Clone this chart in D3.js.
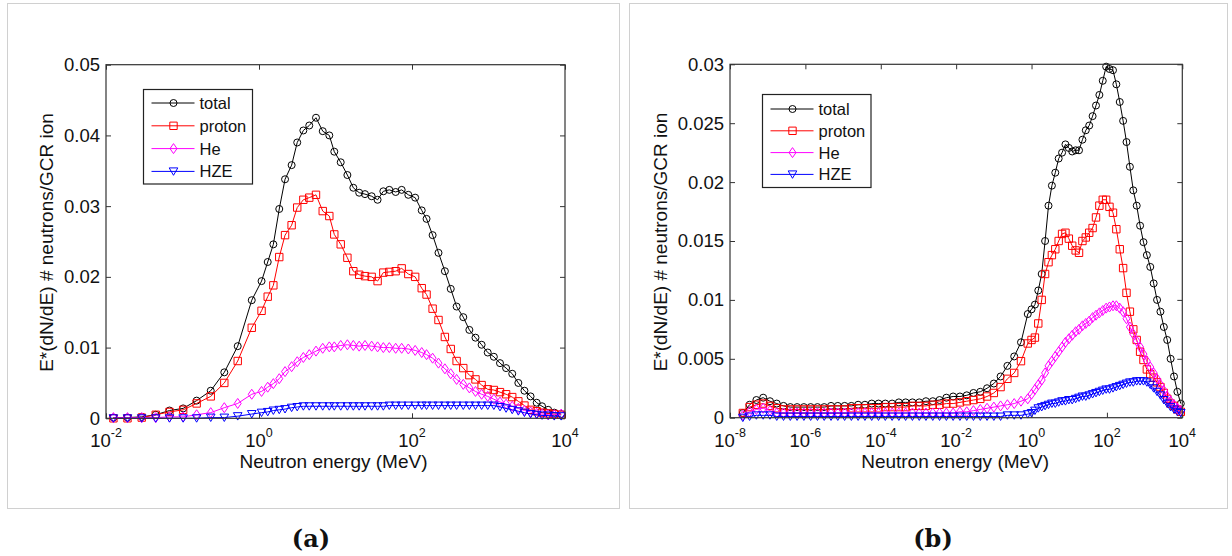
<!DOCTYPE html>
<html><head><meta charset="utf-8">
<script src="https://cdn.jsdelivr.net/npm/d3@7"></script>
<style>
body{margin:0;background:#fff}
svg{display:block}
text{font-family:"Liberation Sans",Arial,sans-serif;fill:#111}
</style></head>
<body><svg id="c" width="1232" height="556"></svg>
<script>
// ---------------- data ----------------
const seriesNames = ["total", "proton", "He", "HZE"];

// panel (a)
const energyA = [0.0125,0.0191,0.0293,0.0447,0.0676,0.102,0.153,0.234,0.352,0.527,
  0.804,1.08,1.30,1.54,1.84,2.19,2.67,3.16,3.80,4.54,
  5.56,6.81,8.30,9.64,11.7,14.3,17.1,20.4,24.3,29.7,
  35.5,42.2,50.5,61.2,73.3,89.5,110,134,155,186,
  222,269,321,383,468,562,676,813,977,1175,
  1413,1698,2042,2455,2951,3548,4266,5012,6026,7244,8913];
const totalA = [0.0001,0.0001,0.0002,0.0005,0.0011,0.0014,0.0025,0.0039,0.0065,0.0102,
  0.0167,0.0194,0.0221,0.0246,0.0296,0.0338,0.0358,0.0390,0.0407,0.0414,
  0.0425,0.0406,0.0400,0.0377,0.0362,0.0344,0.0326,0.0319,0.0317,0.0314,
  0.0309,0.0321,0.0323,0.0320,0.0323,0.0316,0.0312,0.0294,0.0282,0.0259,
  0.0234,0.0208,0.0183,0.0158,0.0143,0.0125,0.0114,0.0104,0.0093,0.0087,
  0.0078,0.0071,0.0063,0.0050,0.0039,0.0031,0.0022,0.0017,0.0012,0.0008,0.0006];
const protonA = [0.0000,0.0000,0.0001,0.0005,0.0009,0.0012,0.0021,0.0031,0.0050,0.0081,
  0.0128,0.0152,0.0172,0.0188,0.0228,0.0259,0.0273,0.0298,0.0309,0.0312,
  0.0316,0.0293,0.0286,0.0260,0.0246,0.0227,0.0208,0.0203,0.0201,0.0200,
  0.0194,0.0206,0.0207,0.0208,0.0212,0.0204,0.0200,0.0184,0.0175,0.0155,
  0.0139,0.0115,0.0098,0.0081,0.0071,0.0061,0.0055,0.0047,0.0041,0.0040,
  0.0037,0.0034,0.0030,0.0024,0.0018,0.0012,0.0010,0.0008,0.0007,0.0006,0.0005];
const heA = [0.0001,0.0001,0.0001,0.0001,0.0002,0.0002,0.0005,0.0008,0.0015,0.0021,
  0.0034,0.0038,0.0044,0.0049,0.0056,0.0066,0.0073,0.0080,0.0086,0.0090,
  0.0095,0.0099,0.0101,0.0101,0.0103,0.0104,0.0103,0.0102,0.0103,0.0102,
  0.0101,0.0100,0.0100,0.0099,0.0099,0.0098,0.0096,0.0093,0.0090,0.0085,
  0.0078,0.0070,0.0063,0.0055,0.0048,0.0043,0.0038,0.0034,0.0031,0.0027,
  0.0023,0.0020,0.0017,0.0014,0.0011,0.0009,0.0007,0.0006,0.0005,0.0005,0.0006];
const hzeA = [0.0000,0.0000,0.0000,0.0000,0.0000,0.0000,0.0000,0.0001,0.0001,0.0003,
  0.0006,0.0008,0.0009,0.0011,0.0012,0.0013,0.0015,0.0016,0.0017,0.0017,
  0.0017,0.0017,0.0017,0.0017,0.0017,0.0017,0.0017,0.0017,0.0017,0.0017,
  0.0017,0.0017,0.0018,0.0018,0.0018,0.0018,0.0018,0.0018,0.0018,0.0018,
  0.0018,0.0018,0.0018,0.0018,0.0018,0.0018,0.0018,0.0018,0.0018,0.0018,
  0.0016,0.0014,0.0012,0.0010,0.0008,0.0006,0.0005,0.0004,0.0004,0.0003,0.0003];
const yTicksA = [0, 0.01, 0.02, 0.03, 0.04, 0.05];
const yTickLabelsA = ["0", "0.01", "0.02", "0.03", "0.04", "0.05"];
const xTicksA = [1e-2, 1e0, 1e2, 1e4];
const xTickExpA = ["-2", "0", "2", "4"];

// panel (b)
const energyB = [2.19e-8,3.31e-8,5.01e-8,7.59e-8,1.15e-7,1.74e-7,2.63e-7,3.98e-7,6.03e-7,9.12e-7,
  1.38e-6,2.09e-6,3.16e-6,4.79e-6,7.24e-6,1.10e-5,1.66e-5,2.51e-5,3.80e-5,5.75e-5,
  8.71e-5,1.32e-4,2.00e-4,3.02e-4,4.57e-4,6.92e-4,1.05e-3,1.58e-3,2.40e-3,3.63e-3,
  5.50e-3,8.32e-3,0.0126,0.0191,0.0288,0.0437,0.0661,0.100,0.151,0.229,
  0.347,0.525,0.794,
  1.00,1.23,1.51,1.86,2.29,2.82,3.47,4.27,5.25,6.46,7.94,
  9.77,12.0,14.8,18.2,22.4,27.5,33.9,41.7,51.3,63.1,
  77.6,95.5,117,145,178,219,269,331,407,501,
  617,759,933,1148,1413,1738,2138,2630,3236,3981,
  4898,6026,7413,9120];
const totalB = [0.0004,0.0011,0.0015,0.0017,0.0014,0.0012,0.0010,0.0009,0.0009,0.0009,
  0.0009,0.0009,0.0009,0.0010,0.0010,0.0010,0.0010,0.0011,0.0011,0.0012,
  0.0012,0.0012,0.0012,0.0013,0.0013,0.0013,0.0013,0.0014,0.0014,0.0015,
  0.0017,0.0018,0.0018,0.0019,0.0021,0.0022,0.0025,0.0029,0.0035,0.0044,
  0.0052,0.0064,0.0088,
  0.0092,0.0096,0.0108,0.0122,0.0150,0.0180,0.0197,0.0208,0.0220,0.0225,0.0232,
  0.0229,0.0226,0.0227,0.0227,0.0236,0.0244,0.0248,0.0256,0.0265,0.0274,
  0.0286,0.0298,0.0296,0.0295,0.0283,0.0268,0.0252,0.0234,0.0213,0.0193,
  0.0180,0.0163,0.0149,0.0138,0.0128,0.0114,0.0100,0.0090,0.0077,0.0066,
  0.0050,0.0035,0.0022,0.0012];
const protonB = [0.0004,0.0009,0.0011,0.0012,0.0010,0.0008,0.0007,0.0007,0.0007,0.0007,
  0.0007,0.0007,0.0007,0.0007,0.0007,0.0007,0.0008,0.0008,0.0008,0.0008,
  0.0008,0.0009,0.0009,0.0009,0.0009,0.0010,0.0010,0.0010,0.0011,0.0011,
  0.0012,0.0012,0.0013,0.0014,0.0015,0.0016,0.0018,0.0021,0.0026,0.0033,
  0.0038,0.0048,0.0063,
  0.0066,0.0068,0.0080,0.0100,0.0122,0.0132,0.0138,0.0143,0.0150,0.0156,0.0157,
  0.0152,0.0146,0.0142,0.0140,0.0150,0.0153,0.0157,0.0161,0.0170,0.0180,
  0.0185,0.0185,0.0179,0.0174,0.0160,0.0143,0.0127,0.0106,0.0090,0.0075,
  0.0066,0.0056,0.0049,0.0041,0.0037,0.0034,0.0030,0.0026,0.0021,0.0016,
  0.0012,0.0010,0.0007,0.0005];
const heB = [0.0002,0.0005,0.0007,0.0008,0.0006,0.0004,0.0004,0.0004,0.0004,0.0004,
  0.0004,0.0004,0.0004,0.0004,0.0004,0.0004,0.0004,0.0004,0.0004,0.0004,
  0.0004,0.0004,0.0004,0.0004,0.0004,0.0004,0.0004,0.0004,0.0004,0.0004,
  0.0004,0.0004,0.0005,0.0005,0.0006,0.0007,0.0008,0.0009,0.0010,0.0011,
  0.0012,0.0014,0.0016,
  0.0020,0.0024,0.0028,0.0032,0.0038,0.0044,0.0048,0.0052,0.0056,0.0060,0.0064,
  0.0067,0.0070,0.0073,0.0075,0.0078,0.0080,0.0082,0.0085,0.0087,0.0089,
  0.0091,0.0093,0.0094,0.0095,0.0095,0.0093,0.0090,0.0084,0.0077,0.0071,
  0.0065,0.0060,0.0054,0.0048,0.0043,0.0038,0.0033,0.0028,0.0023,0.0018,
  0.0014,0.0011,0.0008,0.0006];
const hzeB = [0.0000,0.0001,0.0002,0.0002,0.0002,0.0001,0.0001,0.0001,0.0001,0.0001,
  0.0001,0.0001,0.0001,0.0001,0.0001,0.0001,0.0001,0.0001,0.0001,0.0001,
  0.0001,0.0001,0.0001,0.0001,0.0001,0.0001,0.0001,0.0001,0.0001,0.0001,
  0.0001,0.0001,0.0001,0.0001,0.0001,0.0001,0.0001,0.0001,0.0001,0.0002,
  0.0002,0.0002,0.0003,
  0.0004,0.0006,0.0008,0.0009,0.0010,0.0011,0.0012,0.0012,0.0013,0.0014,0.0014,
  0.0015,0.0015,0.0016,0.0017,0.0018,0.0018,0.0019,0.0020,0.0021,0.0022,
  0.0023,0.0024,0.0024,0.0025,0.0026,0.0027,0.0028,0.0029,0.0030,0.0030,
  0.0031,0.0031,0.0031,0.0030,0.0028,0.0025,0.0022,0.0019,0.0015,0.0012,
  0.0009,0.0007,0.0005,0.0004];
const yTicksB = [0, 0.005, 0.01, 0.015, 0.02, 0.025, 0.03];
const yTickLabelsB = ["0", "0.005", "0.01", "0.015", "0.02", "0.025", "0.03"];
const xTicksB = [1e-8, 1e-6, 1e-4, 1e-2, 1e0, 1e2, 1e4];
const xTickExpB = ["-8", "-6", "-4", "-2", "0", "2", "4"];

const xLabel = "Neutron energy (MeV)";
const yLabel = "E*(dN/dE) # neutrons/GCR ion";
const captions = ["(a)", "(b)"];

// ---------------- styling ----------------
const colors = {total: "#000000", proton: "#ff0000", He: "#ff00ff", HZE: "#0000ff"};
const markerPath = {
  total: "M3.5,0A3.5,3.5 0 1,1 -3.5,0A3.5,3.5 0 1,1 3.5,0Z",
  proton: "M-3.7,-3.7H3.7V3.7H-3.7Z",
  He: "M0,-5L3.5,0L0,5L-3.5,0Z",
  HZE: "M-4.3,-3.5H4.3L0,3.9Z"
};

const svg = d3.select("#c");

function drawPanel(cfg) {
  const g = svg.append("g");
  g.append("rect").attr("x", cfg.frame[0] + 0.5).attr("y", cfg.frame[1] + 0.5)
    .attr("width", cfg.frame[2]).attr("height", cfg.frame[3])
    .attr("fill", "#fff").attr("stroke", "#d0d0d0").attr("stroke-width", 1);

  const x = d3.scaleLog().domain(cfg.xDomain).range([cfg.l, cfg.r]);
  const y = d3.scaleLinear().domain(cfg.yDomain).range([cfg.b, cfg.t]);

  // axes (ticks inside)
  const axCol = "#333";
  const axB = g.append("g").attr("transform", `translate(0,${cfg.b})`)
    .call(d3.axisBottom(x).tickValues(cfg.xTicks).tickSize(-5).tickSizeOuter(0).tickFormat(""));
  const axT = g.append("g").attr("transform", `translate(0,${cfg.t})`)
    .call(d3.axisTop(x).tickValues(cfg.xTicks).tickSize(-5).tickSizeOuter(0).tickFormat(""));
  const axL = g.append("g").attr("transform", `translate(${cfg.l},0)`)
    .call(d3.axisLeft(y).tickValues(cfg.yTicks).tickSize(-5).tickSizeOuter(0).tickFormat(""));
  const axR = g.append("g").attr("transform", `translate(${cfg.r},0)`)
    .call(d3.axisRight(y).tickValues(cfg.yTicks).tickSize(-5).tickSizeOuter(0).tickFormat(""));
  [axB, axT, axL, axR].forEach(a => {
    a.select(".domain").remove();
    a.selectAll("line").attr("stroke", axCol);
  });

  // series
  const line = d3.line().x(d => x(d[0])).y(d => y(d[1]));
  cfg.series.forEach(s => {
    const pts = cfg.energy.map((e, i) => [e, s.values[i]]);
    const col = colors[s.name];
    g.append("path").datum(pts).attr("d", line).attr("fill", "none")
      .attr("stroke", col).attr("stroke-width", 1);
    g.append("g").selectAll("path").data(pts).join("path")
      .attr("d", markerPath[s.name])
      .attr("transform", d => `translate(${x(d[0])},${y(d[1])})`)
      .attr("fill", "none").attr("stroke", col).attr("stroke-width", 1);
  });

  // box
  g.append("rect").attr("x", cfg.l).attr("y", cfg.t)
    .attr("width", cfg.r - cfg.l).attr("height", cfg.b - cfg.t)
    .attr("fill", "none").attr("stroke", axCol).attr("stroke-width", 1.2);

  // y tick labels
  g.append("g").selectAll("text").data(cfg.yTicks).join("text")
    .attr("x", cfg.l - 6).attr("y", d => y(d)).attr("dy", "0.35em")
    .attr("text-anchor", "end").style("font-size", "18.5px")
    .text((d, i) => cfg.yTickLabels[i]);

  // x tick labels 10^n
  const xt = g.append("g").selectAll("text").data(cfg.xTicks).join("text")
    .attr("x", d => x(d)).attr("y", cfg.b + 29)
    .attr("text-anchor", "middle").style("font-size", "18.5px");
  xt.append("tspan").text("10");
  xt.append("tspan").attr("dy", -10).style("font-size", "12.5px")
    .text((d, i) => cfg.xTickExp[i]);

  // axis labels
  g.append("text").attr("x", (cfg.l + cfg.r) / 2 + cfg.xLabDx).attr("y", cfg.b + 50)
    .attr("text-anchor", "middle").style("font-size", "19px").text(xLabel);
  g.append("text")
    .attr("transform", `translate(${cfg.yLabX},${(cfg.t + cfg.b) / 2 + 1}) rotate(-90)`)
    .attr("text-anchor", "middle").style("font-size", "19px").text(yLabel);

  // legend
  const L = cfg.legend;
  const lg = g.append("g");
  lg.append("rect").attr("x", L.x).attr("y", L.y).attr("width", L.w).attr("height", L.h)
    .attr("fill", "#fff").attr("stroke", "#222").attr("stroke-width", 1.2);
  seriesNames.forEach((n, i) => {
    const cy = L.y + L.first + i * L.step;
    lg.append("line").attr("x1", L.x + 8).attr("x2", L.x + 51)
      .attr("y1", cy).attr("y2", cy).attr("stroke", colors[n]).attr("stroke-width", 1);
    lg.append("path").attr("d", markerPath[n])
      .attr("transform", `translate(${L.x + 30},${cy})`)
      .attr("fill", "none").attr("stroke", colors[n]).attr("stroke-width", 1);
    lg.append("text").attr("x", L.x + 56).attr("y", cy).attr("dy", "0.36em")
      .style("font-size", "16.5px").text(n);
  });

  // caption
  svg.append("text").attr("x", cfg.capX).attr("y", 547).attr("text-anchor", "middle")
    .style("font-family", "'DejaVu Serif', 'Liberation Serif', serif")
    .style("font-weight", "bold").style("font-size", "24px").text(cfg.caption);
}

drawPanel({
  frame: [7, 3, 612, 505],
  l: 106, r: 565, t: 64.7, b: 418.3,
  xDomain: [1e-2, 1e4], yDomain: [0, 0.05],
  xTicks: xTicksA, xTickExp: xTickExpA, yTicks: yTicksA, yTickLabels: yTickLabelsA,
  energy: energyA,
  series: [{name: "total", values: totalA}, {name: "proton", values: protonA},
           {name: "He", values: heA}, {name: "HZE", values: hzeA}],
  xLabDx: -2, yLabX: 53,
  legend: {x: 143.5, y: 89.5, w: 109, h: 94.5, first: 13.5, step: 22.8},
  caption: captions[0], capX: 311
});

drawPanel({
  frame: [629, 3, 598, 505],
  l: 730, r: 1182.3, t: 64.3, b: 417.7,
  xDomain: [1e-8, 1e4], yDomain: [0, 0.03],
  xTicks: xTicksB, xTickExp: xTickExpB, yTicks: yTicksB, yTickLabels: yTickLabelsB,
  energy: energyB,
  series: [{name: "total", values: totalB}, {name: "proton", values: protonB},
           {name: "He", values: heB}, {name: "HZE", values: hzeB}],
  xLabDx: -1, yLabX: 667,
  legend: {x: 762.5, y: 94.5, w: 108.5, h: 93, first: 14.5, step: 21.8},
  caption: captions[1], capX: 933
});
</script>
</body></html>
